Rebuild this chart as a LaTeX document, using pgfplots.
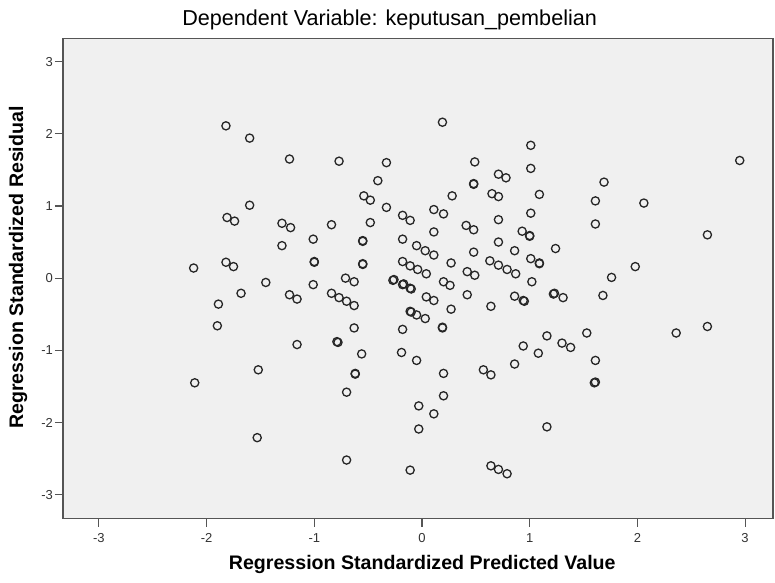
\documentclass[border=0pt]{standalone}
\usepackage{fontspec}
\setmainfont{Liberation Sans}
\usepackage{pgfplots}
\pgfplotsset{compat=1.18}
\definecolor{plotbg}{RGB}{240,240,240}
\definecolor{framegray}{RGB}{85,85,85}

% standardized predicted value vs standardized residual
\pgfplotstableread{
x y
-1.82 2.11
-1.60 1.94
-1.23 1.65
-1.60 1.01
-0.77 1.62
-0.33 1.60
-0.41 1.35
-0.54 1.14
-0.48 1.08
-0.33 0.98
0.11 0.95
0.20 0.89
0.19 2.16
0.49 1.61
0.48 1.31
0.48 1.30
0.28 1.14
0.71 1.44
0.78 1.39
0.65 1.17
0.71 1.13
1.01 1.84
1.01 1.52
1.09 1.16
1.69 1.33
1.61 1.07
2.06 1.04
2.95 1.63
-1.81 0.84
-1.74 0.79
-1.30 0.76
-1.22 0.70
-1.30 0.45
-2.12 0.14
-1.82 0.22
-1.75 0.16
-1.45 -0.06
-1.68 -0.21
-1.23 -0.23
-1.16 -0.29
-1.89 -0.36
-1.90 -0.66
-1.16 -0.92
-1.52 -1.27
-0.18 0.87
-0.11 0.80
0.71 0.81
1.01 0.90
-0.84 0.74
-0.48 0.77
-1.01 0.54
-0.55 0.51
-0.55 0.52
-0.18 0.54
0.11 0.64
0.41 0.73
0.48 0.67
0.93 0.65
1.00 0.58
1.00 0.59
-0.05 0.45
0.03 0.38
0.11 0.32
0.48 0.36
0.71 0.50
0.86 0.38
-1.00 0.22
-1.00 0.23
-0.55 0.20
-0.55 0.19
-0.18 0.23
-0.11 0.17
-0.04 0.12
0.04 0.06
0.27 0.21
0.42 0.09
0.49 0.04
0.63 0.24
0.71 0.18
0.79 0.12
0.87 0.06
1.01 0.27
1.09 0.21
1.09 0.20
-0.71 0.00
-0.63 -0.05
-1.01 -0.09
-0.26 -0.02
-0.27 -0.03
-0.18 -0.09
-0.17 -0.08
-0.11 -0.14
-0.10 -0.15
0.20 -0.05
0.26 -0.10
1.02 -0.05
-0.84 -0.21
-0.77 -0.27
-0.70 -0.32
-0.63 -0.38
0.04 -0.26
0.11 -0.31
0.42 -0.23
0.27 -0.43
0.64 -0.39
0.86 -0.25
0.94 -0.31
0.95 -0.32
-0.11 -0.46
-0.10 -0.47
-0.05 -0.51
0.03 -0.56
-0.63 -0.69
-0.18 -0.71
0.19 -0.68
0.19 -0.69
-0.79 -0.88
-0.78 -0.89
-0.56 -1.05
-0.19 -1.03
-0.05 -1.14
0.94 -0.94
0.86 -1.19
0.57 -1.27
1.24 0.41
1.61 0.75
2.65 0.60
1.98 0.16
1.76 0.01
1.23 -0.21
1.22 -0.22
1.31 -0.27
1.68 -0.24
1.16 -0.80
1.30 -0.90
1.38 -0.96
1.53 -0.76
1.08 -1.04
1.61 -1.14
2.36 -0.76
2.65 -0.67
-2.11 -1.45
-1.53 -2.21
-0.62 -1.32
-0.62 -1.33
0.20 -1.32
0.64 -1.34
-0.70 -1.58
0.20 -1.63
-0.03 -1.77
0.11 -1.88
-0.03 -2.09
-0.70 -2.52
-0.11 -2.66
0.64 -2.60
0.71 -2.65
0.79 -2.71
1.61 -1.44
1.60 -1.45
1.16 -2.06
}\residuals

\begin{document}
\begin{tikzpicture}
\begin{axis}[
    name=ax,
    scale only axis,
    width=355pt, height=240pt,
    xmin=-3.333, xmax=3.259,
    ymin=-3.33, ymax=3.32,
    xtick={-3,-2,-1,0,1,2,3},
    ytick={-3,-2,-1,0,1,2,3},
    xtick pos=bottom, ytick pos=left,
    tick align=outside,
    major tick length=4pt,
    tick style={framegray, line width=0.6pt},
    axis line style={framegray, line width=0.7pt},
    axis background/.style={fill=plotbg},
    /pgf/number format/assume math mode=true,
    tick label style={font=\fontsize{6.5}{7}\selectfont, color=black!80},
    yticklabel style={xshift=2.5pt},
    every axis title shift=0pt,
    title={Dependent Variable: keputusan\_pembelian},
    title style={font=\fontsize{10.8}{12}\selectfont,
                 at={(axis description cs:0.46,1.038)}, anchor=center},
    xlabel={Regression Standardized Predicted Value},
    ylabel={Regression Standardized Residual},
    label style={font=\bfseries\fontsize{9.8}{11}\selectfont},
    x label style={at={(axis description cs:0.506,-0.096)}, anchor=center},
    y label style={at={(axis description cs:-0.0634,0.523)}, anchor=center},
]
\addplot[only marks, mark=o, mark size=2.05pt,
         mark options={line width=0.65pt, black!85}] table {\residuals};
\end{axis}
\pgfresetboundingbox
\path ([shift={(-31.5pt,-32pt)}]ax.south west) rectangle ([shift={(1pt,19.25pt)}]ax.north east);
\end{tikzpicture}
\end{document}
